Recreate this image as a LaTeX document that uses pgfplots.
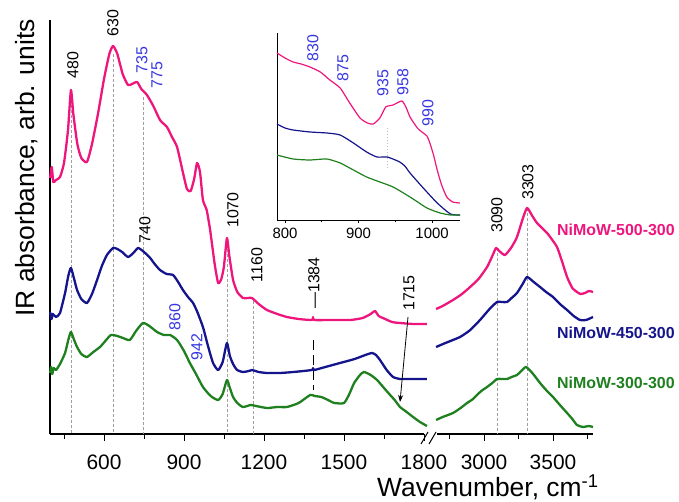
\documentclass[border=0pt]{standalone}
\usepackage{pgfplots}
\pgfplotsset{compat=1.18}
\usepackage{fontspec}
\setmainfont{Liberation Sans}
\usetikzlibrary{arrows.meta}
\definecolor{cpink}{RGB}{238,22,125}
\definecolor{cblue}{RGB}{20,20,140}
\definecolor{cgreen}{RGB}{30,128,30}
\definecolor{lblue}{RGB}{55,55,225}
\begin{document}
\begin{tikzpicture}
\path[use as bounding box] (0,0) rectangle (679bp,502bp);
\pgfplotsset{
  common/.style={scale only axis, anchor=south west, ymin=0, ymax=414, clip=false,
    axis line style={line width=1.2bp}, ytick=\empty, tick align=outside,
    major tick length=7bp, minor tick length=5bp, tick style={line width=1bp, black},
    /pgf/number format/assume math mode=true, /pgf/number format/1000 sep={},
    ticklabel style={font=\fontsize{21}{24}\selectfont}, xticklabel style={yshift=-10bp}},
  pk/.style={cpink, line width=2.3bp, line join=round, smooth, tension=0.35},
  bl/.style={cblue, line width=2.3bp, line join=round, smooth, tension=0.35},
  gr/.style={cgreen, line width=2.3bp, line join=round, smooth, tension=0.35},
  ref/.style={gray!75, line width=0.6bp, dash pattern=on 3bp off 2bp},
}
% ---------- left part ----------
\begin{axis}[common, at={(50bp,68bp)}, width=374bp, height=414bp,
  xmin=397.5, xmax=1800, axis x line*=bottom, axis y line*=left,
  xtick={600,900,1200,1500,1800}, minor xtick={450,750,1050,1350,1650}]
\addplot[ref] coordinates {(476,334) (476,0)};
\addplot[ref] coordinates {(634,380) (634,0)};
\addplot[ref] coordinates {(746,337) (746,0)};
\addplot[ref] coordinates {(1064,190) (1064,0)};
\addplot[ref] coordinates {(1160,133) (1160,0)};
\addplot[black, line width=0.7bp, dash pattern=on 10bp off 5bp] coordinates {(1384,94) (1384,44)};
\addplot[pk] table {
398 256
404 267
410 252
420 254
435 257
450 271
465 304
476 344
485 320
500 290
515 276
536 272
555 290
578 321
600 355
620 380
634 388
650 380
670 360
690 349
705 350
724 352
740 345
761 339
785 328
810 314
836 307
855 297
874 287
893 265
911 245
925 243
938 255
949 271
960 262
971 234
985 224
998 204
1015 170
1028 151
1040 155
1050 168
1061 196
1070 178
1084 154
1100 142
1121 136
1140 136
1155 136
1180 130
1211 124
1250 120
1286 117
1330 115
1380 114
1384 117
1388 114
1450 114
1523 114
1570 116
1600 120
1616 123
1630 118
1646 116
1680 112
1710 111
1760 110
1811 110
};
\addplot[bl] table {
398 122
403 115
408 120
420 117
435 121
454 141
466 158
476 166
488 155
499 144
515 135
536 131
555 140
574 154
592 168
611 179
634 186
650 185
668 182
690 177
710 181
728 186
750 182
773 176
790 170
810 164
835 160
859 159
878 152
896 144
915 137
934 131
950 122
971 107
990 88
1009 71
1028 64
1045 72
1061 91
1072 78
1084 70
1099 64
1121 62
1143 63
1155 64
1180 62
1211 61
1260 61
1310 62
1380 64
1384 66
1388 64
1430 67
1485 71
1540 75
1580 79
1605 81
1620 79
1635 74
1660 64
1684 57
1710 55
1736 55
1811 55
};
\addplot[gr] table {
398 61
402 67
406 60
412 66
420 64
435 70
454 81
466 94
476 102
488 94
499 87
515 80
536 77
560 82
585 87
605 93
626 99
650 98
671 96
697 94
720 103
746 111
770 108
799 102
825 99
848 99
874 94
900 83
922 71
945 60
971 47
1000 38
1028 34
1045 40
1061 54
1072 46
1084 37
1100 31
1121 27
1150 29
1170 28
1211 26
1250 27
1286 27
1330 31
1373 39
1390 38
1415 37
1440 34
1464 31
1500 31
1520 40
1538 51
1560 59
1575 62
1600 59
1624 54
1650 46
1673 39
1690 34
1710 27
1735 22
1759 17
1785 12
1811 8
};
\end{axis}
% ---------- right part ----------
\begin{axis}[common, at={(437bp,68bp)}, width=156bp, height=414bp,
  xmin=2659, xmax=3790, axis x line*=bottom, axis y line=none,
  xtick={3000,3500}, minor xtick={2750,3250,3750}]
\addplot[ref] coordinates {(3094,186) (3094,0)};
\addplot[ref] coordinates {(3312,226) (3312,0)};
\addplot[pk] table {
2652 125
2700 128
2775 134
2840 140
2899 147
2960 155
3022 167
3060 178
3087 186
3110 183
3152 179
3200 187
3239 197
3280 215
3312 226
3350 218
3384 211
3420 206
3457 201
3490 195
3529 187
3560 175
3602 157
3640 146
3674 142
3700 140
3732 141
3760 143
3790 142
};
\addplot[bl] table {
2652 87
2720 91
2826 97
2900 104
2971 114
3040 125
3094 132
3130 132
3167 132
3200 136
3239 141
3280 150
3312 157
3360 152
3406 147
3450 142
3500 137
3550 130
3602 124
3650 118
3696 114
3740 114
3790 117
};
\addplot[gr] table {
2652 14
2700 17
2775 21
2830 26
2877 31
2920 35
2949 39
2980 43
3022 47
3060 51
3094 55
3130 55
3167 55
3200 57
3239 59
3270 63
3304 67
3350 61
3406 51
3450 44
3500 37
3550 29
3602 21
3640 15
3674 9
3717 7
3760 8
3790 7
};
\end{axis}
% ---------- inset ----------
\begin{axis}[scale only axis, anchor=south west, at={(277bp,282bp)}, width=183bp, height=187bp,
  xmin=789.1, xmax=1038, ymin=0, ymax=187, clip=false,
  axis x line*=bottom, axis y line*=left, ytick=\empty,
  axis line style={line width=0.8bp}, tick align=outside,
  major tick length=3bp, minor tick length=2bp, tick style={line width=0.7bp, black},
  xtick={800,900,1000}, minor xtick={850,950},
  /pgf/number format/assume math mode=true, /pgf/number format/1000 sep={},
  ticklabel style={font=\fontsize{15}{17}\selectfont}, xticklabel style={yshift=-2bp}]
\addplot[gray!50, line width=1bp, dotted] coordinates {(939,92) (939,53)};
\addplot[cpink, line width=1.2bp, smooth, tension=0.35] table {
789 167
800 162
811 158
822 156
834 153
848 148
861 140
875 132
888 117
902 102
912 97
920 96
929 102
937 113
947 115
959 119
965 112
970 103
980 92
988 87
993 84
997 77
1002 65
1007 50
1013 35
1020 23
1028 18
1038 17
};
\addplot[cblue, line width=1.2bp, smooth, tension=0.35] table {
789 96
800 92
811 90
834 88
857 87
875 85
893 77
911 68
925 63
939 63
950 60
956 58
963 54
970 47
988 32
1007 17
1025 6
1038 5
};
\addplot[cgreen, line width=1.2bp, smooth, tension=0.35] table {
789 65
811 61
834 60
857 61
875 57
893 50
911 43
929 38
947 33
970 23
993 12
1011 7
1025 5
1038 5
};
\end{axis}
% ---------- break marks ----------
\draw[line width=1bp] (421bp,58bp) -- (428bp,70bp);
\draw[line width=1bp] (429bp,58bp) -- (436bp,70bp);
% ---------- labels ----------
\node[rotate=90, font=\fontsize{26.5}{30}\selectfont, inner sep=0] at (27bp,334bp) {IR absorbance, arb. units};
\node[anchor=base west, font=\fontsize{26.5}{30}\selectfont, inner sep=0] at (377bp,6bp) {Wavenumber, cm\textsuperscript{-1}};
\begin{scope}[every node/.style={rotate=90, inner sep=0, font=\fontsize{16}{18}\selectfont}]
\node at (73bp,437bp) {480};
\node at (113bp,479bp) {630};
\node[text=lblue] at (142bp,442bp) {735};
\node[text=lblue] at (157bp,427bp) {775};
\node at (145bp,272bp) {740};
\node at (233bp,292bp) {1070};
\node at (257bp,237bp) {1160};
\node at (314bp,219bp) {---1384};
\node at (409bp,209bp) {1715};
\node[text=lblue] at (175bp,185bp) {860};
\node[text=lblue] at (197bp,155bp) {942};
\node at (497bp,287bp) {3090};
\node at (528bp,320bp) {3303};
\node[text=lblue] at (313bp,454bp) {830};
\node[text=lblue] at (343bp,434bp) {875};
\node[text=lblue] at (383bp,419bp) {935};
\node[text=lblue] at (403bp,420bp) {958};
\node[text=lblue] at (428bp,389bp) {990};
\end{scope}
\draw[-{Stealth[length=7bp,width=5bp]}, line width=0.8bp] (408bp,185bp) -- (400bp,100bp);
\begin{scope}[every node/.style={anchor=west, inner sep=0, font=\fontsize{16}{18}\selectfont\bfseries}]
\node[text=cpink] at (557bp,272bp) {NiMoW-500-300};
\node[text=cblue] at (557bp,169bp) {NiMoW-450-300};
\node[text=cgreen] at (557bp,119bp) {NiMoW-300-300};
\end{scope}
\end{tikzpicture}
\end{document}
